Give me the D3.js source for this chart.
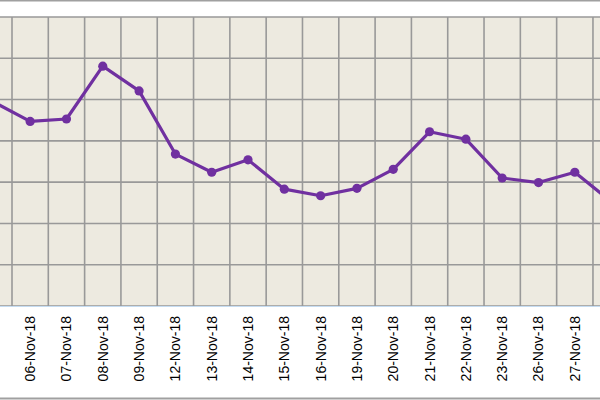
<!DOCTYPE html>
<html>
<head>
<meta charset="utf-8">
<script src="https://cdn.jsdelivr.net/npm/d3@7"></script>
<style>
html,body{margin:0;padding:0;background:#fff;}
svg{display:block;}
</style>
</head>
<body>
<svg id="chart" width="600" height="400"></svg>
<script>
const categories = ["05-Nov-18","06-Nov-18","07-Nov-18","08-Nov-18","09-Nov-18","12-Nov-18","13-Nov-18","14-Nov-18","15-Nov-18","16-Nov-18","19-Nov-18","20-Nov-18","21-Nov-18","22-Nov-18","23-Nov-18","26-Nov-18","27-Nov-18","28-Nov-18"];
const values = [49.4,44.7,45.3,58.1,52.1,36.8,32.4,35.4,28.3,26.7,28.5,33.1,42.2,40.4,31.0,29.9,32.4,25.3];
const yTicks = [0,10,20,30,40,50,60,70];
const highlighted = ["05-Nov-18"];

const svg = d3.select("#chart");
const W = 600, H = 400;
const plotTop = 17, plotBottom = 306;
const band = 36.31;
const x0 = 12 - band;

const x = d3.scaleBand().domain(categories).range([x0, x0 + band * categories.length]).paddingInner(0).paddingOuter(0);
const y = d3.scaleLinear().domain([0,70]).range([plotBottom, plotTop]);

// outer lines
svg.append("rect").attr("x",0).attr("y",0).attr("width",W).attr("height",H).attr("fill","#fff");
svg.append("line").attr("x1",0).attr("x2",W).attr("y1",0.5).attr("y2",0.5).attr("stroke","#a0a0a0").attr("stroke-width",2);
svg.append("line").attr("x1",0).attr("x2",W).attr("y1",398.5).attr("y2",398.5).attr("stroke","#a0a0a0").attr("stroke-width",2);

// plot background
svg.append("rect").attr("x",0).attr("y",plotTop).attr("width",W).attr("height",plotBottom-plotTop).attr("fill","#edeae0");

const g = svg.append("g");
// horizontal grid
g.selectAll("line.h").data(yTicks).enter().append("line")
  .attr("x1",0).attr("x2",W)
  .attr("y1",d=>y(d)).attr("y2",d=>y(d))
  .attr("stroke","#999").attr("stroke-width",1.6);
// vertical grid (band boundaries)
g.selectAll("line.v").data(categories).enter().append("line")
  .attr("x1",d=>x(d)).attr("x2",d=>x(d))
  .attr("y1",plotTop).attr("y2",plotBottom)
  .attr("stroke","#999").attr("stroke-width",1.6);

// x axis line
svg.append("line").attr("x1",0).attr("x2",W).attr("y1",plotBottom+0.5).attr("y2",plotBottom+0.5).attr("stroke","#c5dcf2").attr("stroke-width",1);

// labels
svg.selectAll("text.lab").data(categories).enter().append("text")
  .attr("transform",d=>`translate(${x(d)+x.bandwidth()/2},316) rotate(-90)`)
  .attr("text-anchor","end")
  .attr("dominant-baseline","central")
  .attr("font-family","Liberation Sans, Arial, sans-serif")
  .attr("font-size","14px")
  .attr("fill",d=>highlighted.includes(d)?"#7fe9ff":"#000")
  .text(d=>d);

// line
const line = d3.line().x((d,i)=>x(categories[i])+x.bandwidth()/2).y(d=>y(d));
svg.append("path").datum(values).attr("d",line)
  .attr("fill","none").attr("stroke","#7030a0").attr("stroke-width",3.2).attr("stroke-linejoin","round");
svg.selectAll("circle.pt").data(values).enter().append("circle")
  .attr("cx",(d,i)=>x(categories[i])+x.bandwidth()/2)
  .attr("cy",d=>y(d)).attr("r",4.6).attr("fill","#7030a0");
</script>
</body>
</html>
